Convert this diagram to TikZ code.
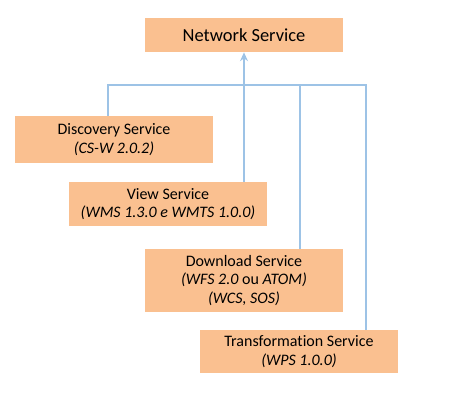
\documentclass[tikz,border=0pt]{standalone}
\usepackage{fontspec}
\setmainfont{Carlito}[Ligatures=NoCommon]
\usepackage{tikz}
\usetikzlibrary{arrows.meta,calc}
\usepackage{xcolor}
\definecolor{boxorange}{HTML}{FAC090}
\definecolor{linkblue}{HTML}{9DC3E6}

\begin{document}
\begin{tikzpicture}[
    x=0.02cm, y=-0.02cm,
    service/.style={rectangle, fill=boxorange, inner sep=0pt, minimum width=3.96cm, align=center, font=\fontsize{9.1}{10.6}\selectfont},
    link/.style={draw=linkblue, line width=1.2pt},
    uplink/.style={link, -{Stealth[length=5pt,width=4.5pt]}}
]
\useasboundingbox (0,0) rectangle (455,414);

% Top service
\node (net) [service, minimum height=0.68cm, font=\fontsize{10.5}{12}\selectfont] at (244,35) {Network Service};

% Service boxes
\node (disc) [service, minimum height=0.94cm] at (114,139.5) {Discovery Service\\\textit{(CS-W 2.0.2)}};
\node (view) [service, minimum height=0.88cm] at (168,204) {View Service\\\textit{(WMS 1.3.0 e WMTS 1.0.0)}};
\node (down) [service, minimum height=1.26cm] at (244,280.5) {Download Service\\\textit{(WFS 2.0} ou \textit{ATOM)}\\\textit{(WCS, SOS)}};
\node (trans) [service, minimum height=0.86cm] at (299,351.5) {Transformation Service\\\textit{(WPS 1.0.0)}};

% Connectors
\coordinate (bus) at (0,85);
\coordinate (disctop) at ($(disc.north)+(-6,0)$);
\coordinate (downtop) at ($(down.north)+(56,0)$);
\coordinate (transtop) at ($(trans.north)+(67,0)$);
\draw[link] (disctop) -- (disctop |- bus) -| (transtop);
\draw[link] (downtop) -- (downtop |- bus);
\draw[uplink] (view.north -| net.south) -- (net.south);

\end{tikzpicture}
\end{document}
